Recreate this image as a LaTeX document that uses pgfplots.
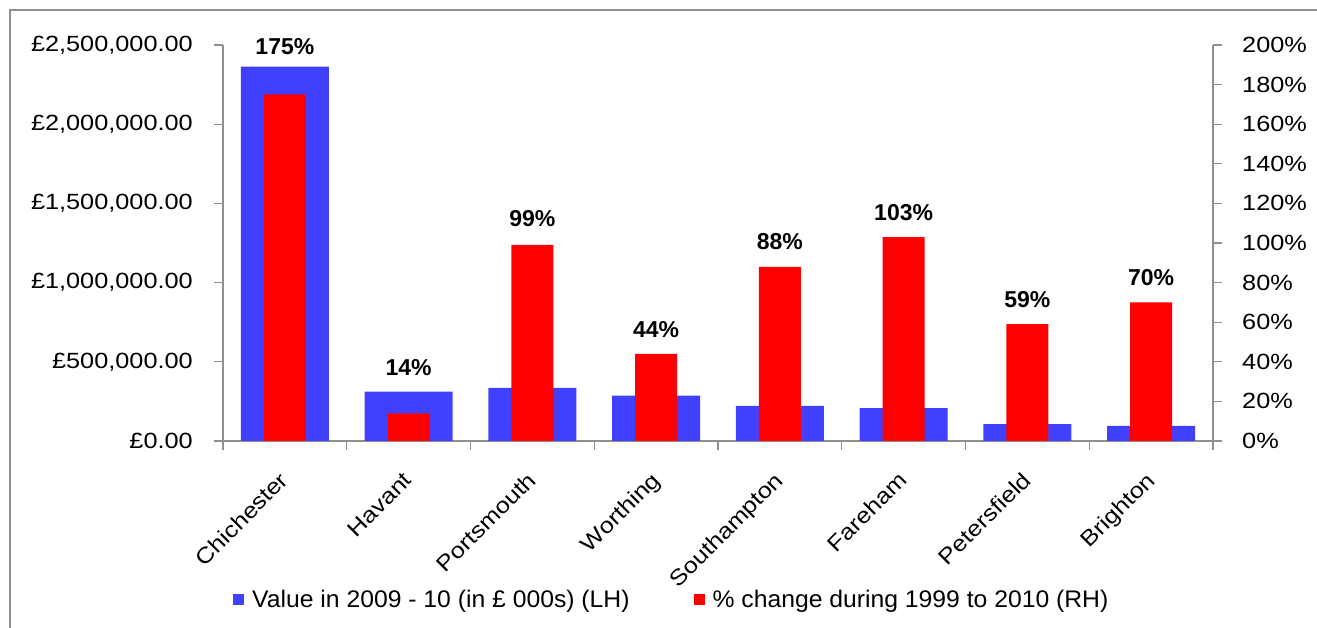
\documentclass[border=0pt]{standalone}
\usepackage{pgfplots}
\pgfplotsset{compat=1.18}
\usepackage{fontspec}
\setmainfont{Liberation Sans}
\newfontfamily\tickfont[FakeStretch=1.15]{Liberation Sans}
\newfontfamily\legfont[FakeStretch=1.03]{Liberation Sans}
\definecolor{barblue}{HTML}{4040FF}
\definecolor{barred}{HTML}{FF0000}
\definecolor{axgray}{HTML}{8F8F8F}
\begin{document}
\begin{tikzpicture}[x=1bp,y=1bp]
\useasboundingbox (0,0) rectangle (1317,628);
\draw[axgray, line width=1.6bp] (10,-2) -- (10,618) -- (1319,618);
\begin{axis}[
  at={(223bp,187bp)}, anchor=south west, scale only axis,
  width=990bp, height=396bp,
  xmin=-0.5, xmax=7.5, ymin=0, ymax=2500000,
  scaled y ticks=false,
  axis x line*=bottom, axis y line*=left,
  axis line style={-, axgray, line width=1.5bp},
  tick align=outside, major tick length=9bp, minor tick length=9bp,
  tick style={axgray, line width=1.3bp},
  major x tick style={draw=none},
  xtick={0,...,7},
  minor xtick={-0.5,0.5,...,7.5},
  xticklabels={Chichester,Havant,Portsmouth,Worthing,Southampton,Fareham,Petersfield,Brighton},
  xticklabel style={rotate=45, anchor=north east, inner sep=0pt, xshift=-19bp, yshift=-10bp,
     font=\tickfont\fontsize{22bp}{24bp}\selectfont},
  ytick={0,500000,1000000,1500000,2000000,2500000},
  yticklabels={{£0.00},{£500,000.00},{£1,000,000.00},{£1,500,000.00},{£2,000,000.00},{£2,500,000.00}},
  yticklabel style={anchor=east, inner sep=0pt, xshift=-21bp, font=\tickfont\fontsize{22bp}{24bp}\selectfont},
  clip=false,
]
\addplot[ybar, bar shift=0pt, bar width=88bp, fill=barblue, draw=none] coordinates {
  (0,2363000) (1,311000) (2,336000) (3,286000) (4,221000) (5,208000) (6,107000) (7,95000)};
\end{axis}
\begin{axis}[
  at={(223bp,187bp)}, anchor=south west, scale only axis,
  width=990bp, height=396bp,
  xmin=-0.5, xmax=7.5, ymin=0, ymax=200,
  axis x line=none, axis y line*=right,
  axis line style={-, axgray, line width=1.5bp},
  tick align=outside, major tick length=9bp,
  tick style={axgray, line width=1.3bp},
  ytick={0,20,...,200},
  yticklabels={0\%,20\%,40\%,60\%,80\%,100\%,120\%,140\%,160\%,180\%,200\%},
  yticklabel style={anchor=west, inner sep=0pt, xshift=20bp, font=\tickfont\fontsize{22bp}{24bp}\selectfont},
  clip=false,
  legend image code/.code={\fill[#1] (0bp,-5.5bp) rectangle (11bp,5.5bp);},
  legend columns=2,
  legend style={at={(0.0101,-0.4)}, anchor=west, draw=none, fill=none,
     inner sep=0pt, font=\legfont\fontsize{24bp}{26bp}\selectfont,
     nodes={inner sep=0pt},
     /tikz/every odd column/.style={column sep=8bp},
     /tikz/every even column/.style={column sep=64bp}},
]
\addplot[ybar, bar shift=0pt, bar width=42bp, fill=barred, draw=none, forget plot] coordinates {
  (0,175) (1,14) (2,99) (3,44) (4,88) (5,103) (6,59) (7,70)};
\addplot[ybar, bar shift=0pt, bar width=0pt, draw=none, fill=none, forget plot,
  nodes near coords, point meta=explicit symbolic,
  every node near coord/.style={anchor=base, inner sep=0pt, font=\bfseries\fontsize{23bp}{24bp}\selectfont}]
  coordinates {
  (0,195.0)[175\%] (1,33.3)[14\%] (2,108.1)[99\%] (3,52.5)[44\%]
  (4,96.5)[88\%] (5,111.6)[103\%] (6,67.6)[59\%] (7,78.6)[70\%]};
\addlegendimage{fill=barblue, draw=none}
\addlegendentry{Value in 2009 - 10 (in £ 000s) (LH)}
\addlegendimage{fill=barred, draw=none}
\addlegendentry{\% change during 1999 to 2010 (RH)}
\end{axis}
\end{tikzpicture}
\end{document}
